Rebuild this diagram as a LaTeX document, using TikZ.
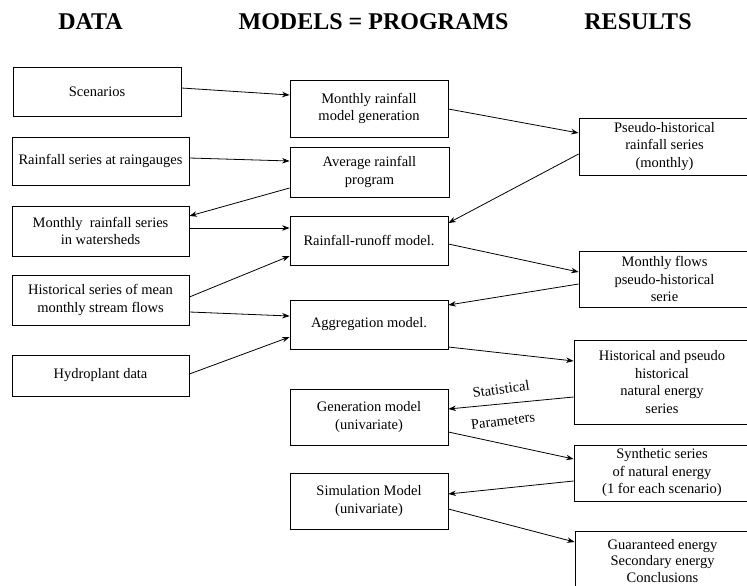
\documentclass[tikz,border=0pt]{standalone}
\usepackage{fontspec}
\setmainfont{Liberation Serif}
\usetikzlibrary{calc,arrows.meta}
\begin{document}
\begin{tikzpicture}[x=1pt,y=-1pt,
  box/.style={draw=black,line width=0.8pt,inner sep=0pt,align=center,
    font=\fontsize{14.5}{17.5}\selectfont},
  head/.style={font=\fontsize{24}{28}\selectfont\bfseries,inner sep=0pt},
  lab/.style={font=\fontsize{14.5}{16}\selectfont,inner sep=0pt},
  arr/.style={line width=0.8pt,-{Stealth[length=7.5pt,width=5.5pt]}}]
\useasboundingbox (0,0) rectangle (747,586);
\clip (0,0) rectangle (747,586);
% headings
\node[head] (hdata) at (90.5,21.5) {DATA};
\node[head] (hmod) at (373.5,21.5) {MODELS = PROGRAMS};
\node[head] (hres) at (638,21.5) {RESULTS};
% data column
\node[box,minimum width=168pt,minimum height=49pt] (scen) at (97,91.5) {Scenarios};
\node[box,minimum width=177pt,minimum height=48pt] (rain) at (100.5,161) {Rainfall series at raingauges};
\node[box,minimum width=177pt,minimum height=50pt] (wsh) at (100.5,231) {Monthly\ \ rainfall series\\in watersheds};
\node[box,minimum width=177pt,minimum height=50pt] (hist) at (100.5,300) {Historical series of mean\\monthly stream flows};
\node[box,minimum width=177pt,minimum height=41pt] (hydro) at (100.5,375.5) {Hydroplant data};
% models column
\node[box,minimum width=158pt,minimum height=57pt] (mrmg) at (369,108.5) {Monthly rainfall\\model generation};
\node[box,minimum width=159pt,minimum height=50pt] (arp) at (369.5,172) {Average rainfall\\program};
\node[box,minimum width=158pt,minimum height=49pt] (rrm) at (369,240.5) {Rainfall-runoff model.};
\node[box,minimum width=158pt,minimum height=49pt] (agg) at (369,324.5) {Aggregation model.};
\node[box,minimum width=158pt,minimum height=56pt] (gen) at (369,417) {Generation model\\(univariate)};
\node[box,minimum width=158pt,minimum height=56pt] (sim) at (369,501) {Simulation Model\\(univariate)};
% results column
\node[box,minimum width=171pt,minimum height=57pt] (phrs) at (664.5,146.5) {Pseudo-historical\\rainfall series\\(monthly)};
\node[box,minimum width=171pt,minimum height=56pt] (mfps) at (664.5,279) {Monthly flows\\pseudo-historical\\serie};
\node[box,minimum width=176pt,minimum height=84pt] (hpnes) at (662,382) {Historical and pseudo\\historical\\natural energy\\series};
\node[box,minimum width=176pt,minimum height=56pt] (syn) at (662,473) {Synthetic series\\of natural energy\\(1 for each scenario)};
\node[box,minimum width=175pt,minimum height=60pt,
  font=\fontsize{14.5}{16.8}\selectfont] (guar) at (662.5,561) {Guaranteed energy\\Secondary energy\\Conclusions};
% connectors
\draw[arr] ($(scen.east)+(0,-3.5)$) -- ($(mrmg.west)+(0,-13.5)$);
\draw[arr] ($(mrmg.east)+(0,0.5)$) -- ($(phrs.west)+(0,-13.5)$);
\draw[arr] ($(rain.east)+(0,-3)$) -- ($(arp.west)+(0,-11)$);
\draw[arr] ($(arp.west)+(0,16)$) -- ($(wsh.east)+(0,-15)$);
\draw[arr] ($(phrs.west)+(0,7.5)$) -- ($(rrm.east)+(0,-17.5)$);
\draw[arr] ($(wsh.east)+(0,-3)$) -- ($(rrm.west)+(0,-12.5)$);
\draw[arr] ($(hist.east)+(0,-3)$) -- ($(rrm.west)+(0,15.5)$);
\draw[arr] ($(rrm.east)+(0,3.5)$) -- ($(mfps.west)+(0,-7)$);
\draw[arr] ($(mfps.west)+(0,5)$) -- ($(agg.east)+(0,-19.5)$);
\draw[arr] ($(hist.east)+(0,12)$) -- ($(agg.west)+(0,-8.5)$);
\draw[arr] ($(hydro.east)+(0,-1.5)$) -- ($(agg.west)+(0,12.5)$);
\draw[arr] ($(agg.east)+(0,22.5)$) -- ($(hpnes.west)+(0,-21)$);
\draw[arr] ($(hpnes.west)+(0,15)$) -- ($(gen.east)+(0,-8)$);
\draw[arr] ($(gen.east)+(0,15)$) -- ($(syn.west)+(0,-14)$);
\draw[arr] ($(syn.west)+(0,8)$) -- ($(sim.east)+(0,-7)$);
\draw[arr] ($(sim.east)+(0,8)$) -- ($(guar.west)+(0,-19)$);
% labels
\node[lab,rotate=8] (lstat) at (501,389) {Statistical};
\node[lab,rotate=7] (lpar) at (503,421) {Parameters};
\end{tikzpicture}
\end{document}
